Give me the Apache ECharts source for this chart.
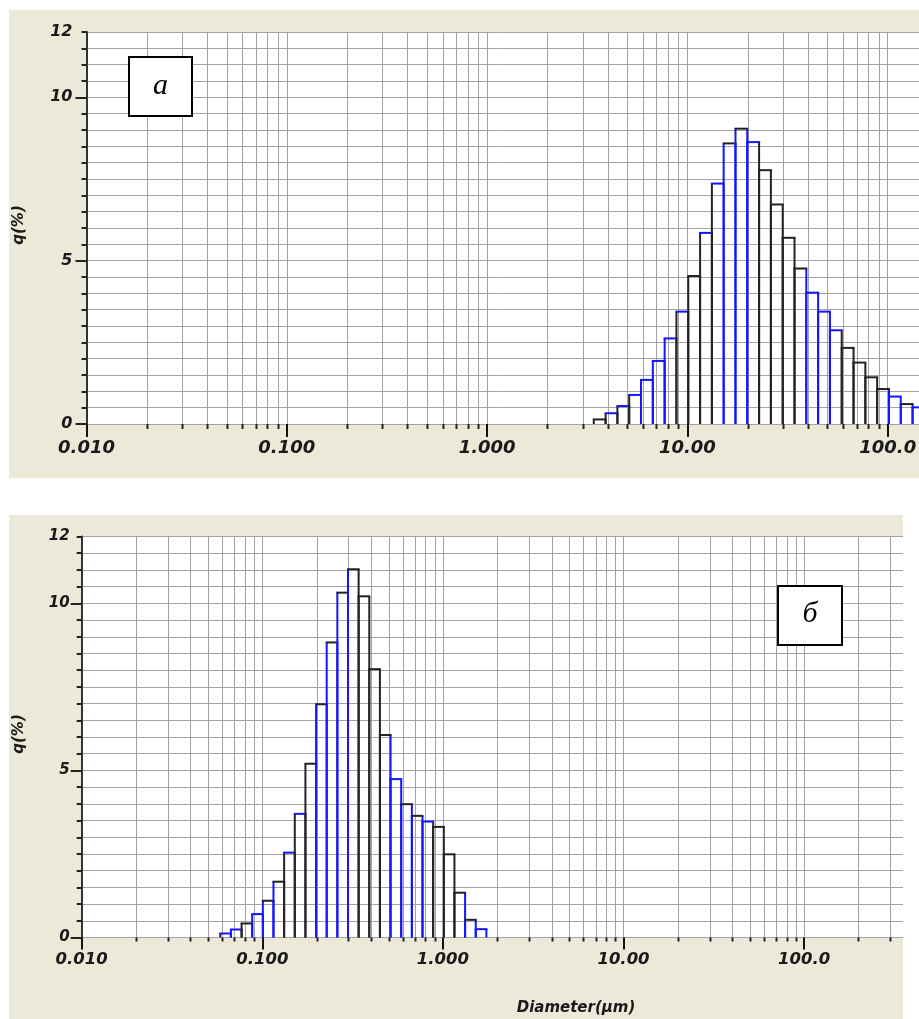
<!DOCTYPE html>
<html>
<head>
<meta charset="utf-8">
<script src="https://cdn.jsdelivr.net/npm/echarts@6/dist/echarts.min.js"></script>
<style>
html,body{margin:0;padding:0;background:#fff;}
#c{width:919px;height:1019px;}
</style>
</head>
<body>
<div id="c"></div>
<script>
// ---------- data ----------
// panel a: bin edges (µm) and q(%) per bin
const EDGES_A = [3.409, 3.905, 4.472, 5.122, 5.867, 6.720, 7.697, 8.816, 10.10, 11.57,
  13.25, 15.17, 17.38, 19.90, 22.80, 26.11, 29.91, 34.26, 39.23, 44.94,
  51.47, 58.95, 67.52, 77.34, 88.58, 101.5, 116.2, 133.1, 152.5];
const Q_A = [0.14, 0.33, 0.55, 0.89, 1.35, 1.93, 2.62, 3.44, 4.53, 5.85,
  7.36, 8.59, 9.04, 8.63, 7.77, 6.72, 5.70, 4.76, 4.02, 3.44,
  2.87, 2.33, 1.88, 1.43, 1.07, 0.84, 0.61, 0.51];
// panel б
const EDGES_B = [0.0585, 0.0670, 0.0768, 0.0879, 0.1007, 0.1153, 0.1321, 0.1513, 0.1733, 0.1985,
  0.2273, 0.2603, 0.2982, 0.3415, 0.3912, 0.4480, 0.5131, 0.5877, 0.6732, 0.7710,
  0.8831, 1.0115, 1.1585, 1.3270, 1.5199, 1.7409];
const Q_B = [0.12, 0.24, 0.42, 0.70, 1.10, 1.67, 2.54, 3.70, 5.20, 6.98,
  8.83, 10.32, 11.02, 10.21, 8.03, 6.06, 4.74, 3.99, 3.64, 3.47,
  3.31, 2.49, 1.34, 0.53, 0.25];

// axis ticks / labels
const X_DECADES = [0.01, 0.1, 1, 10, 100, 1000];
const X_LABELS = ['0.010', '0.100', '1.000', '10.00', '100.0', '1000'];
const X_MINOR = [0.02, 0.03, 0.04, 0.05, 0.06, 0.07, 0.08, 0.09,
  0.2, 0.3, 0.4, 0.5, 0.6, 0.7, 0.8, 0.9,
  2, 3, 4, 5, 6, 7, 8, 9,
  20, 30, 40, 50, 60, 70, 80, 90,
  200, 300, 400, 500, 600, 700, 800, 900];
const Y_LABELS = [0, 5, 10, 12];
const Y_MAJOR = [0, 5, 10];

// ---------- styles ----------
// outline colours of the bars (k = black, b = blue): top segments and vertical edges
const TOP_COL_A = 'kbbbbbbbkbbkkbkkkkbbbkkkkbkb';
const EDGE_COL_A = 'kkkkbbbkkkkbbbkkkkbbbkkkkbbbk';
const TOP_COL_B = 'bbkbkkbbkkkkkkkkbkkbkkkkb';
const EDGE_COL_B = 'kbkbbbkkkbbbbkkkbbbbkkkbbb';

const BLUE = '#1414ff';
const BLACK = '#222222';
const GRID = '#a3a3a3';
const BEIGE = '#ECE9D8';
const FONT = '"DejaVu Sans", Verdana, sans-serif';

function col(ch) { return ch === 'b' ? BLUE : BLACK; }

function barRenderer(topCols, edgeCols) {
  return function (params, api) {
    const i = params.dataIndex;
    const x0 = api.value(0), x1 = api.value(1), h = api.value(2);
    const bl = api.coord([x0, 0]), tl = api.coord([x0, h]);
    const tr = api.coord([x1, h]), br = api.coord([x1, 0]);
    return {
      type: 'group',
      children: [
        { type: 'line', shape: { x1: bl[0], y1: bl[1], x2: tl[0], y2: tl[1] },
          style: { stroke: col(edgeCols[i]), lineWidth: 2 } },
        { type: 'line', shape: { x1: br[0], y1: br[1], x2: tr[0], y2: tr[1] },
          style: { stroke: col(edgeCols[i + 1]), lineWidth: 2 } },
        { type: 'line', shape: { x1: tl[0] - 1, y1: tl[1], x2: tr[0] + 1, y2: tr[1] },
          style: { stroke: col(topCols[i]), lineWidth: 2 } }
      ]
    };
  };
}

function minorRenderer(tickLen) {
  return function (params, api) {
    const v = api.value(0);
    const pb = api.coord([v, 0]);
    const pt = api.coord([v, 12]);
    const x = Math.round(pb[0]) + 0.5;
    return {
      type: 'group',
      children: [
        { type: 'line', shape: { x1: x, y1: pb[1], x2: x, y2: pt[1] },
          style: { stroke: GRID, lineWidth: 1 } },
        { type: 'line', shape: { x1: x, y1: pb[1], x2: x, y2: pb[1] + tickLen },
          style: { stroke: BLACK, lineWidth: 2 } }
      ]
    };
  };
}

function xLabel(v) {
  const k = Math.round(Math.log10(v)) + 2;
  return X_LABELS[k] !== undefined ? X_LABELS[k] : '';
}

function xAxisCfg(gridIndex, fontSize, tickLen, margin) {
  return {
    gridIndex: gridIndex, type: 'log', logBase: 10, min: X_DECADES[0], max: X_DECADES[X_DECADES.length - 1],
    position: 'bottom',
    axisLine: { show: false },
    axisTick: { show: true, length: tickLen, lineStyle: { color: '#111', width: 2 } },
    splitLine: { show: true, lineStyle: { color: GRID, width: 1 } },
    axisLabel: { formatter: xLabel, margin: margin, fontFamily: FONT, fontSize: fontSize,
      fontWeight: 'bold', fontStyle: 'italic', color: '#1a1a1a' }
  };
}

function yAxesCfg(gridIndex, fontSize, margin) {
  return [{
    gridIndex: gridIndex, type: 'value', min: 0, max: 12, interval: 0.5, position: 'left',
    axisLine: { show: true, onZero: false, lineStyle: { color: '#333', width: 2 } },
    axisTick: { show: true, length: 5, lineStyle: { color: '#222', width: 2 } },
    splitLine: { show: true, lineStyle: { color: GRID, width: 1 } },
    axisLabel: {
      formatter: function (v) { return Y_LABELS.indexOf(v) >= 0 ? String(v) : ''; },
      margin: margin, fontFamily: FONT, fontSize: fontSize, fontWeight: 'bold', fontStyle: 'italic', color: '#1a1a1a'
    }
  }, {
    gridIndex: gridIndex, type: 'value', min: 0, max: 12, interval: 5, position: 'left',
    axisLine: { show: false, onZero: false },
    axisTick: { show: true, length: 11, customValues: Y_MAJOR, lineStyle: { color: '#222', width: 2 } },
    splitLine: { show: false },
    axisLabel: { show: false }
  }];
}

const chart = echarts.init(document.getElementById('c'), null, { renderer: 'canvas' });

const option = {
  backgroundColor: '#fff',
  animation: false,
  grid: [
    { left: 86.5, top: 32, width: 1001.5, height: 392, show: true, backgroundColor: '#fff',
      borderWidth: 0, containLabel: false, outerBoundsMode: 'none' },
    { left: 81.7, top: 536.5, width: 903, height: 401, show: true, backgroundColor: '#fff',
      borderWidth: 0, containLabel: false, outerBoundsMode: 'none' }
  ],
  xAxis: [xAxisCfg(0, 18, 13, 15), xAxisCfg(1, 16.5, 12, 14)],
  yAxis: yAxesCfg(0, 16, 14).concat(yAxesCfg(1, 15, 12)),
  graphic: [
    { type: 'rect', z: -10, silent: true, shape: { x: 9, y: 10, width: 910, height: 468 }, style: { fill: BEIGE } },
    { type: 'rect', z: -10, silent: true, shape: { x: 9, y: 515, width: 894, height: 504 }, style: { fill: BEIGE } },
    { type: 'rect', z: 100, silent: true, shape: { x: 903, y: 515, width: 16, height: 504 }, style: { fill: '#fff' } },
    { type: 'rect', z: 50, shape: { x: 129, y: 57, width: 63, height: 59 },
      style: { fill: '#fff', stroke: '#000', lineWidth: 2 } },
    { type: 'text', z: 51, x: 160.5, y: 86,
      style: { text: 'a', fontFamily: '"Liberation Serif", serif', fontStyle: 'italic', fontSize: 30,
        fill: '#000', align: 'center', verticalAlign: 'middle' } },
    { type: 'rect', z: 50, shape: { x: 778, y: 586, width: 64, height: 59 },
      style: { fill: '#fff', stroke: '#000', lineWidth: 2 } },
    { type: 'text', z: 51, x: 810, y: 614,
      style: { text: 'б', fontFamily: '"Liberation Serif", serif', fontStyle: 'italic', fontSize: 30,
        fill: '#000', align: 'center', verticalAlign: 'middle' } },
    { type: 'text', z: 51, x: 19, y: 225, rotation: Math.PI / 2,
      style: { text: 'q(%)', fontFamily: FONT, fontStyle: 'italic', fontWeight: 'bold', fontSize: 15,
        fill: '#1a1a1a', align: 'center', verticalAlign: 'middle' } },
    { type: 'text', z: 51, x: 19, y: 734, rotation: Math.PI / 2,
      style: { text: 'q(%)', fontFamily: FONT, fontStyle: 'italic', fontWeight: 'bold', fontSize: 15,
        fill: '#1a1a1a', align: 'center', verticalAlign: 'middle' } },
    { type: 'text', z: 51, x: 576, y: 1008,
      style: { text: 'Diameter(μm)', fontFamily: FONT, fontStyle: 'italic', fontWeight: 'bold', fontSize: 15,
        fill: '#1a1a1a', align: 'center', verticalAlign: 'middle' } }
  ],
  series: [
    { type: 'custom', name: 'minor-a', xAxisIndex: 0, yAxisIndex: 0, z: 1, silent: true,
      renderItem: minorRenderer(5), encode: { x: 0, y: 1 },
      data: X_MINOR.map(function (v) { return [v, 0]; }) },
    { type: 'custom', name: 'minor-b', xAxisIndex: 1, yAxisIndex: 2, z: 1, silent: true,
      renderItem: minorRenderer(4), encode: { x: 0, y: 1 },
      data: X_MINOR.map(function (v) { return [v, 0]; }) },
    { type: 'custom', name: 'q-a', xAxisIndex: 0, yAxisIndex: 0, z: 3,
      renderItem: barRenderer(TOP_COL_A, EDGE_COL_A), encode: { x: [0, 1], y: 2 },
      data: Q_A.map(function (q, i) { return [EDGES_A[i], EDGES_A[i + 1], q]; }) },
    { type: 'custom', name: 'q-b', xAxisIndex: 1, yAxisIndex: 2, z: 3,
      renderItem: barRenderer(TOP_COL_B, EDGE_COL_B), encode: { x: [0, 1], y: 2 },
      data: Q_B.map(function (q, i) { return [EDGES_B[i], EDGES_B[i + 1], q]; }) }
  ]
};
chart.setOption(option);
</script>
</body>
</html>
